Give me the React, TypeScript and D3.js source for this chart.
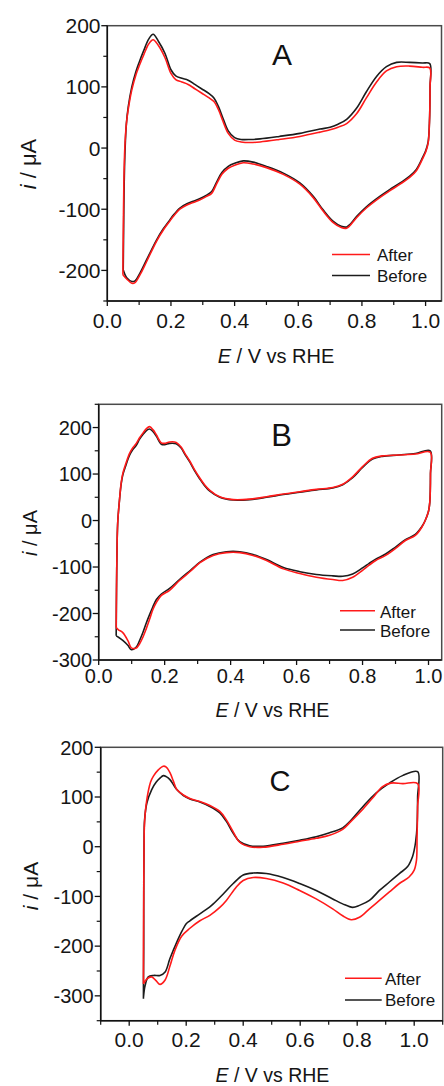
import React from "react";
import * as d3 from "d3";

type Pt = [number, number];

// ---------- data (E in V vs RHE, i in µA), each loop: anodic sweep then cathodic sweep ----------
const seriesNames = ["After", "Before"];
const seriesColors = ["#ff1a1a", "#1c1c1c"];

const aBefore: Pt[] = [
  [0.05, -199], [0.051, -150], [0.053, -60], [0.056, 0], [0.06, 40], [0.066, 68], [0.077, 100], [0.09, 125],
  [0.1, 140], [0.115, 160], [0.13, 178], [0.144, 186], [0.16, 175], [0.181, 155], [0.2, 128], [0.215, 118],
  [0.234, 114], [0.254, 111], [0.275, 104], [0.296, 97], [0.32, 89], [0.335, 82], [0.349, 68], [0.364, 48],
  [0.38, 28], [0.4, 17], [0.42, 14], [0.45, 14], [0.48, 15], [0.54, 19], [0.605, 24], [0.668, 31], [0.7, 34],
  [0.725, 39], [0.752, 47], [0.783, 65], [0.814, 92], [0.846, 117], [0.877, 133], [0.909, 140], [0.95, 140],
  [0.99, 139], [1.013, 138],
  [1.014, 100], [1.012, 40], [1.008, 10], [1.0, -5], [0.992, -14], [0.971, -35], [0.95, -46], [0.92, -57],
  [0.887, -68], [0.856, -79], [0.814, -96], [0.783, -112], [0.762, -125], [0.752, -129], [0.735, -128],
  [0.71, -120], [0.678, -101], [0.647, -79], [0.605, -57], [0.553, -41], [0.5, -30], [0.458, -23],
  [0.427, -21], [0.4, -25], [0.38, -30], [0.36, -40], [0.343, -56], [0.328, -71], [0.312, -77], [0.29, -83],
  [0.27, -87], [0.25, -91], [0.228, -98], [0.207, -110], [0.197, -117], [0.176, -132], [0.155, -150],
  [0.124, -182], [0.103, -204], [0.087, -217], [0.077, -218], [0.061, -212], [0.05, -199],
];

const aAfter: Pt[] = [
  [0.049, -207], [0.05, -150], [0.052, -60], [0.055, 0], [0.06, 40], [0.066, 64], [0.077, 95], [0.09, 120],
  [0.1, 134], [0.115, 153], [0.13, 170], [0.144, 177], [0.16, 168], [0.181, 148], [0.2, 122], [0.215, 112],
  [0.234, 108], [0.254, 104], [0.275, 97], [0.296, 90], [0.32, 82], [0.335, 76], [0.349, 63], [0.364, 43],
  [0.38, 24], [0.4, 13], [0.42, 10], [0.45, 9], [0.48, 10], [0.54, 14], [0.605, 19], [0.668, 26], [0.7, 30],
  [0.725, 34], [0.752, 40], [0.783, 56], [0.814, 82], [0.846, 108], [0.877, 126], [0.909, 133], [0.95, 134],
  [0.99, 132], [1.013, 131],
  [1.014, 100], [1.012, 40], [1.008, 8], [1.0, -7], [0.992, -16], [0.971, -37], [0.95, -48], [0.92, -59],
  [0.887, -70], [0.856, -81], [0.814, -98], [0.783, -114], [0.762, -127], [0.752, -131], [0.735, -130],
  [0.71, -122], [0.678, -103], [0.647, -81], [0.605, -59], [0.553, -43], [0.5, -32], [0.458, -26],
  [0.427, -24], [0.4, -28], [0.38, -33], [0.36, -43], [0.343, -59], [0.328, -74], [0.312, -79], [0.29, -85],
  [0.27, -89], [0.25, -93], [0.228, -100], [0.207, -112], [0.197, -119], [0.176, -134], [0.155, -152],
  [0.124, -185], [0.103, -207], [0.087, -220], [0.077, -221], [0.061, -214], [0.049, -207],
];

const bBefore: Pt[] = [
  [0.053, -248], [0.054, -150], [0.056, -42], [0.058, 0], [0.063, 44], [0.068, 78], [0.073, 98], [0.082, 118],
  [0.094, 141], [0.104, 153], [0.114, 162], [0.124, 175], [0.134, 185], [0.144, 193], [0.154, 197],
  [0.165, 191], [0.175, 181], [0.19, 164], [0.2, 163], [0.215, 166], [0.235, 165], [0.25, 156], [0.26, 144],
  [0.276, 126], [0.29, 108], [0.306, 90], [0.32, 76], [0.337, 63], [0.367, 50], [0.408, 44], [0.458, 45],
  [0.509, 50], [0.56, 56], [0.61, 61], [0.66, 66], [0.71, 70], [0.74, 77], [0.77, 92], [0.8, 114],
  [0.83, 132], [0.86, 138], [0.91, 141], [0.96, 144], [1.005, 150],
  [1.006, 101], [1.004, 40], [1.0, 20], [0.99, 0], [0.98, -13], [0.96, -30], [0.93, -41], [0.9, -57],
  [0.87, -72], [0.84, -83], [0.82, -92], [0.8, -102], [0.77, -115], [0.74, -120], [0.71, -119], [0.66, -116],
  [0.61, -110], [0.56, -101], [0.509, -84], [0.468, -73], [0.428, -67], [0.387, -67], [0.347, -73],
  [0.306, -90], [0.28, -106], [0.245, -127], [0.215, -146], [0.19, -158], [0.175, -170], [0.164, -186],
  [0.154, -203], [0.144, -221], [0.134, -241], [0.124, -258], [0.114, -272], [0.099, -278], [0.089, -269],
  [0.073, -258], [0.06, -251], [0.053, -248],
];

const bAfter: Pt[] = [
  [0.053, -230], [0.054, -150], [0.056, -42], [0.058, 0], [0.063, 44], [0.068, 80], [0.073, 101], [0.082, 122],
  [0.094, 145], [0.104, 157], [0.114, 166], [0.124, 178], [0.134, 188], [0.144, 197], [0.154, 202],
  [0.165, 195], [0.175, 184], [0.19, 167], [0.2, 166], [0.215, 169], [0.235, 168], [0.25, 158], [0.26, 146],
  [0.276, 128], [0.29, 110], [0.306, 92], [0.32, 78], [0.337, 65], [0.367, 51], [0.408, 45], [0.458, 46],
  [0.509, 51], [0.56, 57], [0.61, 62], [0.66, 67], [0.71, 71], [0.74, 78], [0.77, 94], [0.8, 116],
  [0.83, 134], [0.86, 139], [0.91, 141], [0.96, 143], [1.005, 147],
  [1.006, 101], [1.004, 40], [1.0, 20], [0.99, 0], [0.98, -14], [0.96, -32], [0.93, -43], [0.9, -60],
  [0.87, -75], [0.84, -86], [0.82, -96], [0.8, -107], [0.77, -122], [0.74, -129], [0.71, -127], [0.66, -122],
  [0.61, -114], [0.56, -104], [0.509, -86], [0.468, -75], [0.428, -69], [0.387, -69], [0.347, -75],
  [0.306, -91], [0.28, -108], [0.245, -129], [0.215, -150], [0.19, -161], [0.175, -176], [0.164, -192],
  [0.154, -213], [0.144, -233], [0.134, -251], [0.124, -265], [0.114, -274], [0.099, -274], [0.089, -259],
  [0.073, -241], [0.06, -235], [0.053, -230],
];

const cBefore: Pt[] = [
  [0.05, -306], [0.05, -280], [0.051, -200], [0.051, -100], [0.052, 0], [0.054, 54], [0.062, 88],
  [0.079, 115], [0.095, 130], [0.108, 138], [0.12, 143], [0.13, 141], [0.143, 135], [0.155, 125],
  [0.167, 115], [0.19, 103], [0.213, 96], [0.248, 90], [0.283, 81], [0.318, 68], [0.341, 51], [0.365, 27],
  [0.388, 10], [0.423, 2], [0.47, 1], [0.54, 7], [0.598, 13], [0.656, 20], [0.703, 28], [0.749, 38],
  [0.773, 50], [0.819, 80], [0.866, 108], [0.913, 128], [0.959, 143], [1.012, 151],
  [1.012, 100], [1.01, 40], [1.005, 10], [1.0, -7], [0.994, -20], [0.977, -40], [0.948, -54], [0.913, -71],
  [0.878, -88], [0.843, -108], [0.808, -118], [0.784, -122], [0.749, -115], [0.714, -105], [0.656, -88],
  [0.598, -74], [0.54, -62], [0.481, -54], [0.435, -53], [0.4, -57], [0.365, -74], [0.33, -95], [0.295, -115],
  [0.283, -121], [0.248, -135], [0.213, -149], [0.2, -155], [0.185, -170], [0.167, -192], [0.143, -225],
  [0.126, -252], [0.108, -259], [0.085, -259], [0.067, -262], [0.056, -279], [0.05, -303],
];

const cAfter: Pt[] = [
  [0.05, -276], [0.05, -200], [0.051, -100], [0.052, 0], [0.054, 50], [0.062, 95], [0.075, 130],
  [0.085, 142], [0.103, 155], [0.12, 162], [0.13, 160], [0.143, 149], [0.155, 132], [0.167, 115],
  [0.19, 104], [0.213, 97], [0.248, 91], [0.283, 83], [0.318, 71], [0.341, 54], [0.365, 30], [0.388, 9],
  [0.423, 0], [0.47, -1], [0.54, 5], [0.598, 11], [0.656, 17], [0.703, 23], [0.749, 35], [0.773, 48],
  [0.819, 75], [0.854, 98], [0.889, 121], [0.918, 128], [0.96, 127], [1.012, 127],
  [1.012, 80], [1.01, 20], [1.008, -27], [1.0, -47], [0.982, -61], [0.948, -74], [0.913, -91], [0.878, -108],
  [0.843, -125], [0.808, -142], [0.779, -147], [0.749, -139], [0.714, -125], [0.656, -105], [0.598, -88],
  [0.54, -73], [0.481, -64], [0.435, -62], [0.4, -68], [0.376, -81], [0.341, -108], [0.318, -122],
  [0.283, -138], [0.248, -149], [0.213, -164], [0.184, -180], [0.16, -209], [0.143, -240], [0.126, -268],
  [0.108, -277], [0.095, -270], [0.079, -262], [0.062, -266], [0.05, -276],
];

const panelLetters = ["A", "B", "C"];
const xMajorTicks = [0, 0.2, 0.4, 0.6, 0.8, 1.0];
const yMajorTicksA = [-200, -100, 0, 100, 200];
const yMajorTicksBC = [-300, -200, -100, 0, 100, 200];

// ---------- layout ----------
type Layout = {
  left: number; top: number; right: number; bottom: number;
  xDomain: [number, number]; yDomain: [number, number];
  yTicks: number[]; yTickFont: number; yTickRight: number;
  xTickFont: number; xTickBaseline: number;
  xLabelX: number; xLabelY: number; xLabelFont: number;
  yLabelX: number; yLabelY: number; yLabelFont: number;
  letterX: number; letterY: number; letterFont: number;
  legLineX0: number; legLineX1: number; legTextX: number;
  legLineY: [number, number]; legTextY: [number, number]; legFont: number;
};

const layouts: Layout[] = [
  {
    left: 107.3, top: 25.7, right: 441.5, bottom: 301,
    xDomain: [0, 1.05], yDomain: [-250, 200],
    yTicks: yMajorTicksA, yTickFont: 21, yTickRight: 100.5,
    xTickFont: 21, xTickBaseline: 328,
    xLabelX: 276, xLabelY: 363, xLabelFont: 20,
    yLabelX: 36, yLabelY: 164, yLabelFont: 22,
    letterX: 282, letterY: 65, letterFont: 30,
    legLineX0: 332, legLineX1: 370, legTextX: 377,
    legLineY: [254.5, 275.5], legTextY: [260.7, 281.7], legFont: 17,
  },
  {
    left: 98.7, top: 404.3, right: 441.7, bottom: 660,
    xDomain: [0, 1.04], yDomain: [-300, 250],
    yTicks: yMajorTicksBC, yTickFont: 20, yTickRight: 92,
    xTickFont: 20, xTickBaseline: 683,
    xLabelX: 272.5, xLabelY: 716.5, xLabelFont: 19.5,
    yLabelX: 36.5, yLabelY: 533, yLabelFont: 20,
    letterX: 281.7, letterY: 446, letterFont: 31,
    legLineX0: 340, legLineX1: 375, legTextX: 380,
    legLineY: [610.7, 630], legTextY: [617.7, 636.7], legFont: 17,
  },
  {
    left: 100.7, top: 747.3, right: 442.7, bottom: 1020.7,
    xDomain: [-0.1, 1.1], yDomain: [-350, 200],
    yTicks: yMajorTicksBC, yTickFont: 20, yTickRight: 93.5,
    xTickFont: 21, xTickBaseline: 1046.5,
    xLabelX: 272.5, xLabelY: 1081.5, xLabelFont: 19.5,
    yLabelX: 38, yLabelY: 886, yLabelFont: 21,
    letterX: 280, letterY: 790.7, letterFont: 29,
    legLineX0: 345, legLineX1: 381.7, legTextX: 385,
    legLineY: [978.3, 1000], legTextY: [985, 1006], legFont: 17,
  },
];

const panelData: [Pt[], Pt[]][] = [
  [aAfter, aBefore],
  [bAfter, bBefore],
  [cAfter, cBefore],
];

const FONT = "'Liberation Sans', Arial, Helvetica, sans-serif";

function Panel({ L, letter, data }: { L: Layout; letter: string; data: [Pt[], Pt[]] }) {
  const x = d3.scaleLinear().domain(L.xDomain).range([L.left, L.right]);
  const y = d3.scaleLinear().domain(L.yDomain).range([L.bottom, L.top]);
  const line = d3
    .line<Pt>()
    .x((d) => x(d[0]))
    .y((d) => y(d[1]))
    .curve(d3.curveCatmullRom.alpha(0.5));

  const yMinor = d3.range(L.yDomain[0], L.yDomain[1] + 1, 50).filter((v) => !L.yTicks.includes(v));
  const xMinor = d3
    .range(-0.1, 1.11, 0.2)
    .map((v) => Math.round(v * 10) / 10)
    .filter((v) => v >= L.xDomain[0] - 1e-6 && v <= L.xDomain[1] + 1e-6);

  const order = [1, 0]; // draw Before first, After on top
  return (
    <g>
      {/* curves */}
      {order.map((k) => (
        <path
          key={k}
          d={line(data[k]) || ""}
          fill="none"
          stroke={seriesColors[k]}
          strokeWidth={1.6}
          strokeLinejoin="round"
        />
      ))}
      {/* frame */}
      <rect
        x={L.left}
        y={L.top}
        width={L.right - L.left}
        height={L.bottom - L.top}
        fill="none"
        stroke="#4a4a4a"
        strokeWidth={1.5}
      />
      <line x1={L.left} x2={L.left} y1={L.top} y2={L.bottom} stroke="#111" strokeWidth={1.5} />
      <line x1={L.left} x2={L.right} y1={L.bottom} y2={L.bottom} stroke="#111" strokeWidth={1.5} />
      {/* y ticks */}
      {L.yTicks.map((v) => (
        <g key={"ym" + v}>
          <line x1={L.left - 6} x2={L.left} y1={y(v)} y2={y(v)} stroke="#111" strokeWidth={1.3} />
          <text
            x={L.yTickRight}
            y={y(v)}
            dy="0.36em"
            textAnchor="end"
            fontSize={L.yTickFont}
            fontFamily={FONT}
            fill="#151515"
          >
            {String(v)}
          </text>
        </g>
      ))}
      {yMinor.map((v) => (
        <line key={"yn" + v} x1={L.left - 4} x2={L.left} y1={y(v)} y2={y(v)} stroke="#111" strokeWidth={1.2} />
      ))}
      {/* x ticks */}
      {xMajorTicks.map((v) => (
        <g key={"xm" + v}>
          <line x1={x(v)} x2={x(v)} y1={L.bottom} y2={L.bottom + 5} stroke="#111" strokeWidth={1.3} />
          <text
            x={x(v)}
            y={L.xTickBaseline}
            textAnchor="middle"
            fontSize={L.xTickFont}
            fontFamily={FONT}
            fill="#151515"
          >
            {v.toFixed(1)}
          </text>
        </g>
      ))}
      {xMinor.map((v) => (
        <line key={"xn" + v} x1={x(v)} x2={x(v)} y1={L.bottom} y2={L.bottom + 4} stroke="#111" strokeWidth={1.2} />
      ))}
      {/* axis labels */}
      <text x={L.xLabelX} y={L.xLabelY} textAnchor="middle" fontSize={L.xLabelFont} fontFamily={FONT} fill="#151515">
        <tspan fontStyle="italic">E</tspan>
        <tspan> / V vs RHE</tspan>
      </text>
      <text
        transform={`translate(${L.yLabelX},${L.yLabelY}) rotate(-90)`}
        textAnchor="middle"
        fontSize={L.yLabelFont}
        fontFamily={FONT}
        fill="#151515"
      >
        <tspan fontStyle="italic">i</tspan>
        <tspan> / μA</tspan>
      </text>
      {/* panel letter */}
      <text x={L.letterX} y={L.letterY} textAnchor="middle" fontSize={L.letterFont} fontFamily={FONT} fill="#111">
        {letter}
      </text>
      {/* legend */}
      {seriesNames.map((name, k) => (
        <g key={name}>
          <line
            x1={L.legLineX0}
            x2={L.legLineX1}
            y1={L.legLineY[k]}
            y2={L.legLineY[k]}
            stroke={seriesColors[k]}
            strokeWidth={1.6}
          />
          <text x={L.legTextX} y={L.legTextY[k]} fontSize={L.legFont} fontFamily={FONT} fill="#151515">
            {name}
          </text>
        </g>
      ))}
    </g>
  );
}

export default function App() {
  return (
    <svg
      width={444}
      height={1086}
      viewBox="0 0 444 1086"
      style={{ position: "absolute", left: 0, top: 0, background: "#fff" }}
    >
      <rect x={0} y={0} width={444} height={1086} fill="#fff" />
      {layouts.map((L, i) => (
        <Panel key={i} L={L} letter={panelLetters[i]} data={panelData[i]} />
      ))}
    </svg>
  );
}
